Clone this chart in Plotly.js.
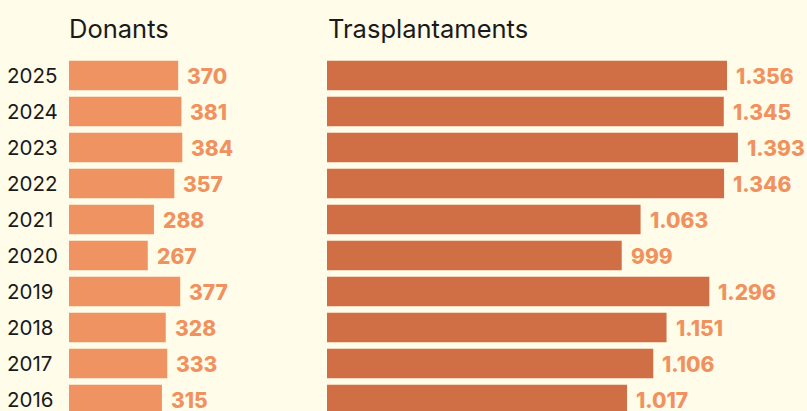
<!DOCTYPE html>
<html>
<head>
<meta charset="utf-8">
<script src="https://cdn.plot.ly/plotly-3.0.1.min.js"></script>
<style>
  html, body { margin: 0; padding: 0; background: #fffce9; }
  #chart { width: 807px; height: 411px; }
</style>
</head>
<body>
<div id="chart"></div>
<script>
const years = [2025, 2024, 2023, 2022, 2021, 2020, 2019, 2018, 2017, 2016];
const donants = [370, 381, 384, 357, 288, 267, 377, 328, 333, 315];
const trasplantaments = [1356, 1345, 1393, 1346, 1063, 999, 1296, 1151, 1106, 1017];
const titles = ['Donants', 'Trasplantaments'];

const W = 807;
const pxPerUnit = 0.295;
const x1Start = 69, x1End = 300;
const x2Start = 327, x2End = 807;

function fmt(v) {
  return v.toString().replace(/\B(?=(\d{3})+(?!\d))/g, '.');
}

const traces = [
  {
    type: 'bar', orientation: 'h',
    x: donants, y: years,
    xaxis: 'x', yaxis: 'y',
    marker: { color: '#ef9363' },
    width: 0.82,
    hoverinfo: 'skip'
  },
  {
    type: 'bar', orientation: 'h',
    x: trasplantaments, y: years,
    xaxis: 'x2', yaxis: 'y2',
    marker: { color: '#d06e46' },
    width: 0.82,
    hoverinfo: 'skip'
  }
];

const labelFont = { family: 'Inter, "Open Sans", sans-serif', size: 21, color: '#f0925f', weight: 800 };
const yearFont = { family: 'Inter, "Open Sans", sans-serif', size: 20.5, color: '#1a1a1a' };
const annotations = [];
years.forEach((yr, i) => {
  annotations.push({
    xref: 'paper', yref: 'y', x: 8 / W, y: yr,
    text: String(yr), showarrow: false,
    xanchor: 'left', yanchor: 'middle', xshift: -3, yshift: 0,
    font: yearFont
  });
  annotations.push({
    xref: 'x', yref: 'y', x: donants[i], y: yr,
    text: fmt(donants[i]), showarrow: false,
    xanchor: 'left', yanchor: 'middle', xshift: 7, yshift: -1,
    font: labelFont
  });
  annotations.push({
    xref: 'x2', yref: 'y2', x: trasplantaments[i], y: yr,
    text: fmt(trasplantaments[i]), showarrow: false,
    xanchor: 'left', yanchor: 'middle', xshift: 7, yshift: -1,
    font: labelFont
  });
});
const titleFont1 = { family: 'Inter, "Open Sans", sans-serif', size: 25.5, color: '#1a1a1a' };
annotations.push({
  xref: 'paper', yref: 'paper', x: x1Start / W, y: 1, yshift: 4, xshift: -2,
  text: titles[0], showarrow: false, xanchor: 'left', yanchor: 'bottom', font: titleFont1
});
annotations.push({
  xref: 'paper', yref: 'paper', x: x2Start / W, y: 1, yshift: 4, xshift: -1,
  text: titles[1], showarrow: false, xanchor: 'left', yanchor: 'bottom', font: titleFont1
});

const yRange = [2015.68, 2025.708];

const layout = {
  width: 807, height: 411,
  margin: { l: 0, r: 0, t: 50, b: 0, pad: 0 },
  paper_bgcolor: '#fffce9',
  plot_bgcolor: 'rgba(0,0,0,0)',
  showlegend: false,
  xaxis: {
    domain: [x1Start / W, x1End / W],
    range: [0, (x1End - x1Start) / pxPerUnit],
    visible: false, fixedrange: true
  },
  xaxis2: {
    domain: [x2Start / W, x2End / W],
    range: [0, (x2End - x2Start) / pxPerUnit],
    visible: false, fixedrange: true
  },
  yaxis: {
    anchor: 'x', range: yRange,
    showticklabels: false, showgrid: false, zeroline: false, showline: false,
    fixedrange: true
  },
  yaxis2: {
    anchor: 'x2', range: yRange,
    showticklabels: false, showgrid: false, zeroline: false, showline: false,
    fixedrange: true
  },
  annotations: annotations
};

Plotly.newPlot('chart', traces, layout, { displayModeBar: false, staticPlot: true });
</script>
</body>
</html>
